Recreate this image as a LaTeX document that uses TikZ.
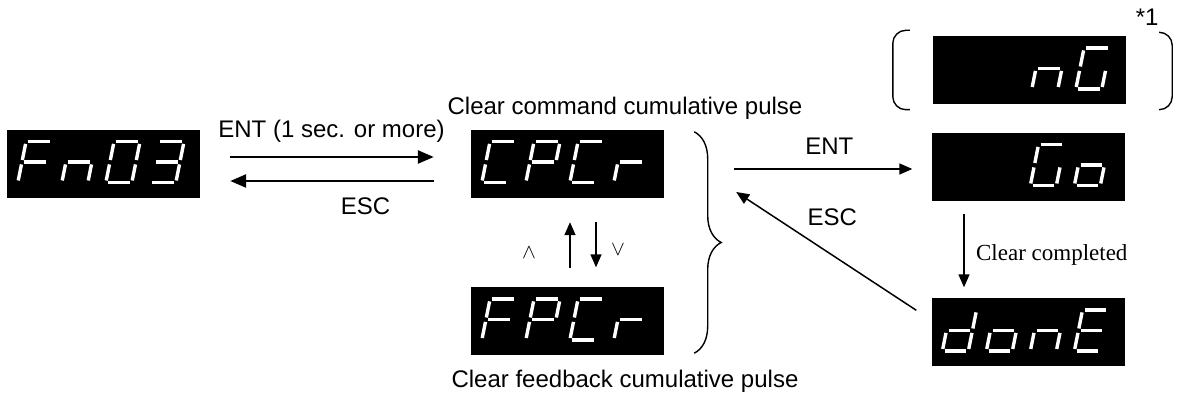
\documentclass[tikz,border=0pt]{standalone}
\usepackage{fontspec}
\setmainfont{Liberation Sans}
\newfontfamily\serifface{Liberation Serif}
\usetikzlibrary{arrows.meta, positioning, decorations.pathreplacing}

% segments lit for each seven-segment glyph
\expandafter\def\csname segsF\endcsname{a,e,f,g}
\expandafter\def\csname segsn\endcsname{c,e,g}
\expandafter\def\csname segs0\endcsname{a,b,c,d,e,f}
\expandafter\def\csname segs3\endcsname{a,b,c,d,g}
\expandafter\def\csname segsC\endcsname{a,d,e,f}
\expandafter\def\csname segsP\endcsname{a,b,e,f,g}
\expandafter\def\csname segsr\endcsname{e,g}
\expandafter\def\csname segsG\endcsname{a,c,d,e,f}
\expandafter\def\csname segso\endcsname{c,d,e,g}
\expandafter\def\csname segsd\endcsname{b,c,d,e,g}
\expandafter\def\csname segsE\endcsname{a,d,e,f,g}

\newcommand{\segbar}[1]{%
  \if a#1\draw[seg] (2.2,41) -- (23.8,41);\fi
  \if b#1\draw[seg] (26,38.8) -- (26,22.7);\fi
  \if c#1\draw[seg] (26,18.3) -- (26,2.2);\fi
  \if d#1\draw[seg] (2.2,0) -- (23.8,0);\fi
  \if e#1\draw[seg] (0,2.2) -- (0,18.3);\fi
  \if f#1\draw[seg] (0,22.7) -- (0,38.8);\fi
  \if g#1\draw[seg] (2.2,20.5) -- (23.8,20.5);\fi}

% #1 display node, #2 first cell, #3 glyphs
\newcommand{\segword}[3]{%
  \foreach \segch [count=\cell from #2] in {#3} {
    \edef\seglist{\csname segs\segch\endcsname}
    \begin{scope}[shift={(#1.south west)}, shift={(\cell*44-33,15.5)}, xslant=0.2]
      \foreach \s in \seglist {\segbar{\s}}
    \end{scope}
  }}

\begin{document}
\begin{tikzpicture}[
    x=1pt, y=1pt,
    display/.style={fill=black, minimum width=193pt, minimum height=68pt, inner sep=0pt},
    seg/.style={white, line width=3.4pt},
    lbl/.style={font=\fontsize{24}{28}\selectfont},
    sym/.style={font=\fontsize{22}{22}\selectfont},
    arr/.style={-{Triangle[length=13pt,width=11pt]}, line width=1.5pt},
    bigarr/.style={-{Triangle[length=16pt,width=13pt]}, line width=2.4pt},
    paren/.style={line width=1.4pt, rounded corners=13pt}
  ]
  \useasboundingbox (0,0) rectangle (1180,404);

  % -------- displays --------
  \node[display] (fn) at (103.5,240) {};
  \node[display] (cp) at (567.5,240) {};
  \node[display] (fp) at (567.5,82.5) {};
  \node[display] (ng) at (1029.5,333.5) {};
  \node[display] (go) at (1028,237) {};
  \node[display] (dn) at (1028,71.5) {};

  \segword{fn}{1}{F,n,0,3}
  \segword{cp}{1}{C,P,C,r}
  \segword{fp}{1}{F,P,C,r}
  \segword{ng}{3}{n,G}
  \segword{go}{3}{G,o}
  \segword{dn}{1}{d,o,n,E}

  % -------- texts --------
  \node[lbl, anchor=base] (cmdtxt) at ([shift={(57.5pt,15pt)}]cp.north) {Clear command cumulative pulse};
  \node[lbl, anchor=base] (fbtxt) at ([shift={(57.5pt,-31.5pt)}]fp.south) {Clear feedback cumulative pulse};
  \node[lbl, anchor=base] (note) at ([shift={(21pt,11pt)}]ng.north east) {*1};

  % -------- arrows --------
  \draw[bigarr, shorten <=30pt, shorten >=37pt] ([yshift=7pt]fn.east) --
    node[lbl, anchor=base, xshift=-4pt, yshift=19pt] {ENT (1 sec. or more)} ([yshift=7pt]cp.west);
  \draw[bigarr, shorten <=37pt, shorten >=30pt] ([yshift=-17pt]cp.west) --
    node[lbl, anchor=base, xshift=30pt, yshift=-34pt] {ESC} ([yshift=-17pt]fn.east);

  \draw[arr] ([xshift=2.5pt,yshift=19pt]fp.north) --
    node[sym, midway, xshift=-41pt, yshift=-7pt] {$\wedge$} ([xshift=2.5pt,yshift=-24pt]cp.south);
  \draw[arr] ([xshift=28.5pt,yshift=-24pt]cp.south) --
    node[sym, midway, xshift=22pt, yshift=-5pt] {$\vee$} ([xshift=28.5pt,yshift=20pt]fp.north);

  \draw[decorate, decoration={brace, amplitude=27pt}, line width=1.4pt]
    ([shift={(30pt,-2pt)}]cp.north east) -- ([shift={(30pt,2.5pt)}]fp.south east);

  \draw[arr] ([shift={(70pt,-5pt)}]cp.east) --
    node[lbl, anchor=base, xshift=6pt, yshift=14pt] {ENT} ([shift={(-19pt,-2pt)}]go.west);
  \draw[arr] ([shift={(-15pt,-12pt)}]dn.north west) --
    node[lbl, anchor=base, xshift=6pt, yshift=26pt] {ESC} ([shift={(72pt,-28pt)}]cp.east);
  \draw[arr] ([xshift=-64pt,yshift=-13pt]go.south) --
    node[anchor=base west, font=\serifface\fontsize{23}{27}\selectfont, xshift=8pt, yshift=-10pt] {Clear completed}
    ([xshift=-64pt,yshift=11pt]dn.north);

  % -------- parentheses round nG --------
  \draw[paren] ([shift={(-23pt,6pt)}]ng.north west) -- ([shift={(-40pt,6pt)}]ng.north west)
    -- ([shift={(-40pt,-5pt)}]ng.south west) -- ([shift={(-23pt,-5pt)}]ng.south west);
  \draw[paren] ([shift={(34pt,4pt)}]ng.north east) -- ([shift={(46pt,4pt)}]ng.north east)
    -- ([shift={(46pt,-5pt)}]ng.south east) -- ([shift={(34pt,-5pt)}]ng.south east);
\end{tikzpicture}
\end{document}
